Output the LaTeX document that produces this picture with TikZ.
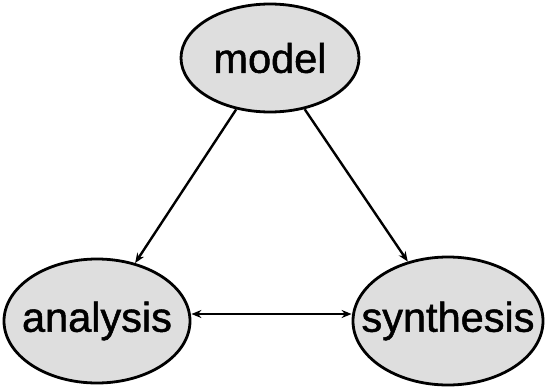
\documentclass[tikz,border=0pt]{standalone}
\usepackage{fontspec}
\setmainfont{Liberation Sans}
\newfontfamily\wordfont{Liberation Sans}[FakeBold=1.2]
\usetikzlibrary{shapes.geometric,arrows.meta}
\begin{document}
\begin{tikzpicture}[x=1pt,y=-1pt,
  blob/.style={ellipse,draw=black,line width=2.8pt,fill=black!13,inner sep=0pt},
  word/.style={font=\wordfont\fontsize{41.5}{48}\selectfont,inner sep=0pt},
  tip/.tip={Stealth[length=10pt,width=8pt]},
  link/.style={line width=2.4pt,-tip}]
\useasboundingbox (0,0) rectangle (546,388);
% three ellipses, each with its word set in the middle
\node[blob,minimum width=178pt,minimum height=108pt] (model) at (270,58) {};
\node[word] (modeltext) at (model.center) {model};
\node[blob,minimum width=186pt,minimum height=124pt] (analysis) at (97,321) {};
\node[word] (analysistext) at (analysis.center) {analysis};
\node[blob,minimum width=190pt,minimum height=128pt] (synthesis) at (448,321) {};
\node[word] (synthesistext) at (synthesis.center) {synthesis};
% connectors
\draw[link] (model) -- (analysis);
\draw[link] (model) -- (synthesis);
\draw[link,tip-tip] (analysis.east |- 0,314) -- (synthesis.west |- 0,314);
\end{tikzpicture}
\end{document}
